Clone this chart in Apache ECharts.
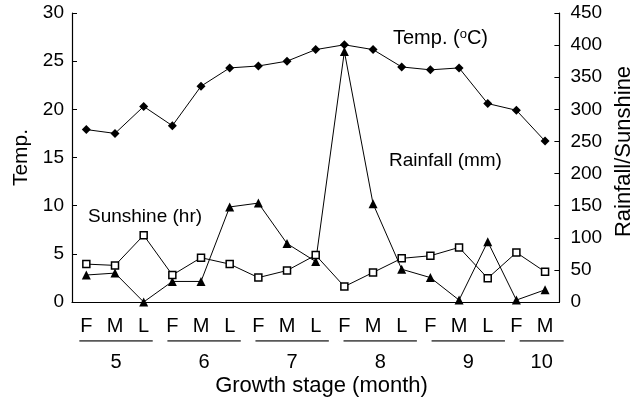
<!DOCTYPE html>
<html>
<head>
<meta charset="utf-8">
<script src="https://cdn.jsdelivr.net/npm/echarts@6/dist/echarts.min.js"></script>
<style>
html,body{margin:0;padding:0;background:#fff;}
#chart{width:643px;height:405px;}
</style>
</head>
<body>
<div id="chart"></div>
<script>
const stageLabels = ['F','M','L','F','M','L','F','M','L','F','M','L','F','M','L','F','M'];
const monthLabels = ['5','6','7','8','9','10'];
const monthSpans = [3,3,3,3,3,2];
const temp = [17.9,17.5,20.3,18.3,22.4,24.3,24.5,25.0,26.2,26.7,26.2,24.4,24.1,24.3,20.6,19.9,16.7];
const rainfall = [42,45,0,32,32,148,154,91,63,390,153,51,38,3,94,3,19];
const sunshine = [59,57,104,42,69,59,38,49,73,24,46,68,72,85,37,77,47];
const leftTicks = [0,30,5];
const rightTicks = [0,450,50];

// build category names and month group geometry (in category units)
const categories = [];
const monthCenters = [];
const underline = [];
let start = 0;
monthSpans.forEach((span, m) => {
  for (let k = 0; k < span; k++) categories.push(monthLabels[m] + stageLabels[start + k]);
  monthCenters.push(start + span / 2);
  underline.push([start + 0.25, 0], [start + span - 0.25, 0], [start + span, '-']);
  start += span;
});

const FONT = 'Liberation Sans, Arial, sans-serif';
const black = '#000';
const chart = echarts.init(document.getElementById('chart'));
chart.setOption({
  animation: false,
  backgroundColor: '#fff',
  textStyle: { fontFamily: FONT, color: black },
  grid: [
    { left: 72, right: 72, top: 13, bottom: 103 },
    { left: 72, right: 72, top: 340, height: 1 }
  ],
  xAxis: [
    {
      type: 'category', gridIndex: 0, data: categories, boundaryGap: true,
      axisLine: { lineStyle: { color: black, width: 1.2 } },
      axisTick: { inside: true, length: 5, lineStyle: { color: black } },
      axisLabel: { interval: 0, margin: 14, fontSize: 20, color: black, fontFamily: FONT,
        formatter: (v, i) => stageLabels[i] },
      splitLine: { show: false }
    },
    {
      type: 'value', gridIndex: 1, min: 0, max: categories.length,
      axisLine: { show: false }, axisTick: { show: false }, splitLine: { show: false },
      axisLabel: { customValues: monthCenters, margin: 11, fontSize: 20, color: black, fontFamily: FONT,
        formatter: v => monthLabels[monthCenters.indexOf(v)] },
      name: 'Growth stage (month)', nameLocation: 'middle', nameGap: 34,
      nameTextStyle: { fontSize: 22, color: black, fontFamily: FONT }
    }
  ],
  yAxis: [
    {
      type: 'value', gridIndex: 0, min: leftTicks[0], max: leftTicks[1], interval: leftTicks[2],
      axisLine: { show: true, lineStyle: { color: black, width: 1.2 } },
      axisTick: { show: true, inside: true, length: 5, lineStyle: { color: black } },
      axisLabel: { margin: 8, fontSize: 19, color: black, fontFamily: FONT },
      splitLine: { show: false },
      name: 'Temp.', nameLocation: 'middle', nameRotate: 90, nameGap: 40,
      nameTextStyle: { fontSize: 21, color: black, fontFamily: FONT }
    },
    {
      type: 'value', gridIndex: 0, position: 'right', min: rightTicks[0], max: rightTicks[1], interval: rightTicks[2],
      axisLine: { show: true, lineStyle: { color: black, width: 1.2 } },
      axisTick: { show: true, inside: true, length: 5, lineStyle: { color: black } },
      axisLabel: { margin: 11, fontSize: 19, color: black, fontFamily: FONT },
      splitLine: { show: false },
      name: 'Rainfall/Sunshine', nameLocation: 'middle', nameRotate: 90, nameGap: 53,
      nameTextStyle: { fontSize: 22, color: black, fontFamily: FONT, padding: [0, 0, 0, 12] }
    },
    { type: 'value', gridIndex: 1, min: 0, max: 1, show: false }
  ],
  series: [
    {
      name: 'Temp.', type: 'line', xAxisIndex: 0, yAxisIndex: 0, data: temp,
      symbol: 'diamond', symbolSize: 9,
      lineStyle: { color: black, width: 1 }, itemStyle: { color: black }
    },
    {
      name: 'Rainfall', type: 'line', xAxisIndex: 0, yAxisIndex: 1, data: rainfall,
      symbol: 'triangle', symbolSize: 9,
      lineStyle: { color: black, width: 1 }, itemStyle: { color: black }
    },
    {
      name: 'Sunshine', type: 'line', xAxisIndex: 0, yAxisIndex: 1, data: sunshine,
      symbol: 'rect', symbolSize: 7,
      lineStyle: { color: black, width: 1 }, itemStyle: { color: '#fff', borderColor: black, borderWidth: 1.5 }
    },
    {
      type: 'line', xAxisIndex: 1, yAxisIndex: 2, data: underline,
      symbol: 'none', connectNulls: false, silent: true,
      lineStyle: { color: '#222', width: 1.6 }
    }
  ],
  graphic: [
    { type: 'text', left: 393, top: 28, style: {
      text: '{a|Temp. (}{s|o}{a|C)}', fill: black,
      rich: { a: { fontSize: 20, fontFamily: FONT, fill: black }, s: { fontSize: 13, fontFamily: FONT, fill: black, verticalAlign: 'top', padding: [0, 0, 8, 0] } } } },
    { type: 'text', left: 389, top: 151, style: { text: 'Rainfall (mm)', font: '19px ' + FONT, fill: black } },
    { type: 'text', left: 88, top: 207, style: { text: 'Sunshine (hr)', font: '19px ' + FONT, fill: black } }
  ]
});
</script>
</body>
</html>
